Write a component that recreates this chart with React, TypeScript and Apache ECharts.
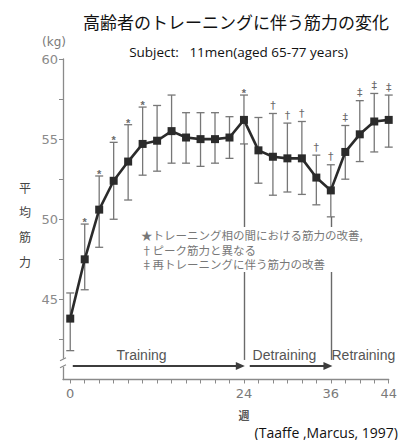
import React, { useEffect, useRef } from "react";
import * as echarts from "echarts";

// ---- data ----
const weeks = [0, 2, 4, 6, 8, 10, 12, 14, 16, 18, 20, 22, 24, 26, 28, 30, 32, 34, 36, 38, 40, 42, 44];
const meanStrength = [43.8, 47.5, 50.6, 52.4, 53.6, 54.7, 54.9, 55.5, 55.1, 55.0, 55.0, 55.1, 56.2, 54.3, 53.9, 53.8, 53.8, 52.6, 51.8, 54.2, 55.3, 56.1, 56.2];
const upperBar = [45.4, 49.7, 52.7, 54.8, 55.9, 57.0, 57.1, 57.75, 56.65, 56.65, 56.65, 56.4, 57.75, 56.35, 56.6, 56.0, 56.1, 54.0, 53.4, 55.85, 57.4, 57.85, 57.75];
const lowerBar = [41.8, 45.6, 48.25, 50.0, 51.2, 52.75, 53.0, 53.5, 53.5, 53.3, 53.5, 53.8, 54.7, 52.25, 51.5, 51.7, 51.55, 50.9, 50.15, 52.5, 53.6, 54.2, 54.5];
const marks = ["", "*", "*", "*", "*", "*", "", "", "", "", "", "", "*", "", "†", "†", "†", "†", "†", "‡", "‡", "‡", "‡"];

const xTicks = weeks;
const xTickLabels = [0, 24, 36, 44];
const yTicks = [42.5, 45, 47.5, 50, 52.5, 55, 57.5, 60];
const yTickLabels = [45, 50, 55, 60];

const phaseNames = ["Training", "Detraining", "Retraining"];
const phaseArrowStart = [0.35, 24.8, 36.3];
const phaseArrowEnd = [23.5, 35.6, 44.55];
const phaseLabelX = [9.85, 29.6, 40.5];
const phaseBoundaries = [24, 36];

const legendLines = [
  "★トレーニング相の間における筋力の改善,",
  "†ピーク筋力と異なる",
  "‡再トレーニングに伴う筋力の改善",
];

const ARROW_Y = 40.85;
const DIVIDER_BOTTOM = 41.22;
const LABEL_Y = 41.53;

export default function App() {
  const ref = useRef<HTMLDivElement>(null);

  useEffect(() => {
    document.body.style.margin = "0";
    const chart = echarts.init(ref.current!, null, { renderer: "svg" });
    const axisColor = "#8a8a8a";
    const labelFont = "DejaVu Sans";

    const markLineData: any[] = [];
    phaseBoundaries.forEach((b) => {
      const i = weeks.indexOf(b);
      markLineData.push([
        { coord: [b, lowerBar[i]], symbol: "none", lineStyle: { color: "#6a6a6a", width: 1.4, type: "solid" } },
        { coord: [b, DIVIDER_BOTTOM], symbol: "none" },
      ]);
    });
    phaseNames.forEach((_, k) => {
      markLineData.push([
        { coord: [phaseArrowStart[k], ARROW_Y], symbol: "none", lineStyle: { color: "#3c3c3c", width: 2, type: "solid" } },
        { coord: [phaseArrowEnd[k], ARROW_Y], symbol: "triangle", symbolSize: [8, 9] },
      ]);
    });

    const option: any = {
      animation: false,
      grid: { left: 63, right: 10.75, top: 59, bottom: 60.5 },
      xAxis: {
        type: "value",
        min: -1,
        max: 44,
        axisLine: { onZero: false, lineStyle: { color: axisColor, width: 1.3 } },
        axisTick: { show: true, length: 4, customValues: xTicks, lineStyle: { color: axisColor } },
        axisLabel: { customValues: xTickLabels, color: "#7a7a7a", fontSize: 13, margin: 7, fontFamily: labelFont },
        splitLine: { show: false },
      },
      yAxis: {
        type: "value",
        min: 40,
        max: 60,
        axisLine: { show: true, onZero: false, lineStyle: { color: axisColor, width: 1.3 } },
        axisTick: { show: true, length: 4, customValues: yTicks, lineStyle: { color: axisColor } },
        axisLabel: { customValues: yTickLabels, color: "#8a8a8a", fontSize: 13, margin: 5, fontFamily: labelFont },
        splitLine: { show: false },
      },
      series: [
        {
          type: "custom",
          name: "errorbars",
          data: weeks.map((w, i) => [w, lowerBar[i], upperBar[i], i]),
          encode: { x: 0, y: [1, 2] },
          z: 2,
          silent: true,
          renderItem: (params: any, api: any) => {
            const x = api.value(0);
            const lo = api.value(1);
            const hi = api.value(2);
            const idx = api.value(3);
            const top = api.coord([x, hi]);
            const bot = api.coord([x, lo]);
            const hw = 4;
            const st = { stroke: "#777", lineWidth: 1.3 };
            const m = marks[idx];
            const children: any[] = [
              { type: "line", shape: { x1: top[0], y1: top[1], x2: bot[0], y2: bot[1] }, style: st },
              { type: "line", shape: { x1: top[0] - hw, y1: top[1], x2: top[0] + hw, y2: top[1] }, style: st },
              { type: "line", shape: { x1: bot[0] - hw, y1: bot[1], x2: bot[0] + hw, y2: bot[1] }, style: st },
            ];
            if (m) {
              const isStar = m === "*";
              children.push({
                type: "text",
                style: {
                  text: m,
                  x: top[0],
                  y: isStar ? top[1] - 2 : top[1] - 8,
                  align: "center",
                  verticalAlign: "middle",
                  fontSize: 11,
                  fontWeight: isStar ? "bold" : "normal",
                  fontFamily: isStar ? "Liberation Sans" : "DejaVu Sans",
                  fill: "#6a6a6a",
                },
              });
            }
            return { type: "group", children };
          },
        },
        {
          type: "line",
          name: "mean",
          data: weeks.map((w, i) => [w, meanStrength[i]]),
          symbol: "rect",
          symbolSize: 8,
          itemStyle: { color: "#2b2b2b" },
          lineStyle: { color: "#2b2b2b", width: 2.6 },
          z: 3,
          clip: false,
          markLine: {
            silent: true,
            symbol: ["none", "none"],
            label: { show: false },
            animation: false,
            data: markLineData,
          },
        },
      ],
    };

    chart.setOption(option);

    const px = (x: number, y: number) => chart.convertToPixel({ gridIndex: 0 }, [x, y]) as number[];

    const graphics: any[] = [];
    graphics.push({
      type: "text",
      x: 236,
      y: 21.5,
      style: { text: "高齢者のトレーニングに伴う筋力の変化", fontSize: 17, fontFamily: "Noto Sans CJK JP", fill: "#111", align: "center", verticalAlign: "middle" },
    });
    graphics.push({
      type: "text",
      x: 238.5,
      y: 51.5,
      style: { text: "Subject:   11men(aged 65-77 years)", fontSize: 13.5, fontFamily: "Open Sans", fill: "#111", align: "center", verticalAlign: "middle" },
    });
    graphics.push({
      type: "text",
      x: 54,
      y: 41.5,
      style: { text: "(kg)", fontSize: 12, fontFamily: labelFont, fill: "#7a7a7a", align: "center", verticalAlign: "middle" },
    });
    const yName = ["平", "均", "筋", "力"];
    const yNameY = [187, 211.5, 236, 261.5];
    yName.forEach((c, k) => {
      graphics.push({
        type: "text",
        x: 25,
        y: yNameY[k],
        style: { text: c, fontSize: 12, fontFamily: "Noto Sans CJK JP", fill: "#444", align: "center", verticalAlign: "middle" },
      });
    });
    graphics.push({
      type: "text",
      x: 244,
      y: 415,
      style: { text: "週", fontSize: 11, fontWeight: "bold", fontFamily: "Noto Sans CJK JP", fill: "#555", align: "center", verticalAlign: "middle" },
    });
    graphics.push({
      type: "text",
      x: 398,
      y: 432,
      style: { text: "(Taaffe ,Marcus, 1997)", fontSize: 14, fontFamily: "Open Sans", fill: "#111", align: "right", verticalAlign: "middle" },
    });
    graphics.push({ type: "rect", shape: { x: 139, y: 227, width: 232, height: 45 }, style: { fill: "#fff" }, z: 10 });
    const legY = [235, 249.5, 264];
    legendLines.forEach((t, k) => {
      graphics.push({
        type: "text",
        x: 141,
        y: legY[k],
        z: 11,
        style: { text: t, fontSize: 11.5, fontFamily: "Noto Sans CJK JP", fill: "#777", align: "left", verticalAlign: "middle" },
      });
    });
    phaseNames.forEach((n, k) => {
      const p = px(phaseLabelX[k], LABEL_Y);
      graphics.push({
        type: "text",
        x: p[0],
        y: p[1],
        style: { text: n, fontSize: 14, fontFamily: "Liberation Sans", fill: "#555", align: "center", verticalAlign: "middle" },
      });
    });
    const bTop = px(-1, 41.3);
    const bBot = px(-1, 40.8);
    graphics.push({ type: "rect", shape: { x: bTop[0] - 3, y: bTop[1], width: 6, height: bBot[1] - bTop[1] }, style: { fill: "#fff" }, z: 10 });
    graphics.push({ type: "line", shape: { x1: bTop[0] - 3, y1: bTop[1] + 2, x2: bTop[0] + 3, y2: bTop[1] - 1 }, style: { stroke: axisColor, lineWidth: 1.2 }, z: 11 });
    graphics.push({ type: "line", shape: { x1: bBot[0] - 3, y1: bBot[1] + 1, x2: bBot[0] + 3, y2: bBot[1] - 2 }, style: { stroke: axisColor, lineWidth: 1.2 }, z: 11 });

    chart.setOption({ graphic: graphics });

    return () => chart.dispose();
  }, []);

  return <div ref={ref} style={{ width: 400, height: 440 }} />;
}
